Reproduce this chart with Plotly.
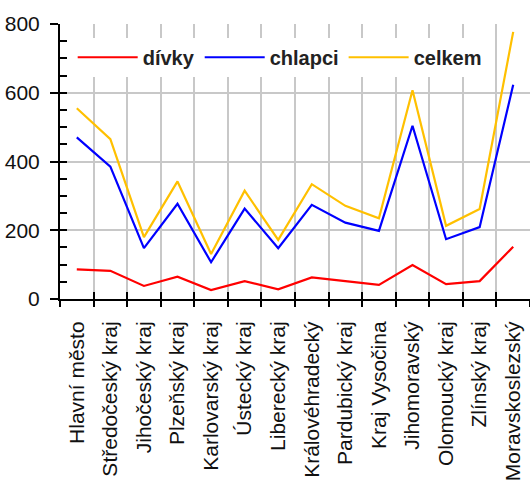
import plotly.graph_objects as go

# Regions (kraje) and counts per group
kraje = ["Hlavní město", "Středočeský kraj", "Jihočeský kraj", "Plzeňský kraj",
         "Karlovarský kraj", "Ústecký kraj", "Liberecký kraj", "Královéhradecký",
         "Pardubický kraj", "Kraj Vysočina", "Jihomoravský", "Olomoucký kraj",
         "Zlínský kraj", "Moravskoslezský"]
divky = [86, 82, 38, 65, 26, 52, 28, 63, 52, 41, 99, 43, 52, 152]
chlapci = [470, 385, 148, 277, 107, 263, 148, 274, 222, 198, 504, 174, 209, 623]
celkem = [555, 465, 180, 342, 131, 315, 172, 334, 271, 235, 607, 213, 262, 777]

y_ticks = [0, 200, 400, 600, 800]

FONT = "Liberation Sans, Arial, sans-serif"
GRID = "#c8c8c8"

n = len(kraje)
idx = list(range(n))
bounds = [i - 0.5 for i in range(n + 1)]

fig = go.Figure()
for name, vals, col in [("dívky", divky, "#ff0000"),
                        ("chlapci", chlapci, "#0000ff"),
                        ("celkem", celkem, "#ffc000")]:
    fig.add_trace(go.Scatter(x=idx, y=vals, name=name, mode="lines",
                             line=dict(color=col, width=2.2)))

# helper trace so the overlay axes (inner tick marks) are drawn
fig.add_trace(go.Scatter(x=[None], y=[None], xaxis="x2", yaxis="y2",
                         showlegend=False, hoverinfo="skip"))

fig.update_layout(
    width=530, height=489,
    margin=dict(l=60, r=0, t=24, b=190),
    paper_bgcolor="white", plot_bgcolor="white",
    font=dict(family=FONT, size=20, color="#111111"),
    xaxis=dict(
        range=[-0.5, n - 0.5],
        tickmode="array", tickvals=idx, ticktext=kraje, tickangle=-90,
        tickfont=dict(size=21),
        ticks="", showgrid=False, zeroline=False,
        showline=True, linecolor="black", linewidth=2,
        ticklabelstandoff=12,
        minor=dict(tickmode="array", tickvals=bounds, ticks="outside",
                   ticklen=6, tickwidth=2, tickcolor="black",
                   showgrid=True, gridcolor=GRID, gridwidth=2),
    ),
    xaxis2=dict(
        range=[-0.5, n - 0.5], overlaying="x", anchor="y", side="bottom",
        tickmode="array", tickvals=bounds, ticks="inside", ticklen=7,
        tickwidth=2, tickcolor="black", showticklabels=False,
        showgrid=False, zeroline=False, showline=False,
    ),
    yaxis=dict(
        range=[0, 800], tickmode="array", tickvals=y_ticks,
        ticks="outside", ticklen=8, tickwidth=2, tickcolor="black",
        showgrid=True, gridcolor=GRID, gridwidth=2, zeroline=False,
        showline=True, linecolor="black", linewidth=2,
        ticklabelstandoff=6, tickfont=dict(size=21),
    ),
    yaxis2=dict(
        range=[0, 800], overlaying="y", anchor="x", side="left",
        dtick=50, tick0=0, ticks="inside", ticklen=7, tickwidth=2,
        tickcolor="black", showticklabels=False,
        showgrid=False, zeroline=False, showline=False,
    ),
    legend=dict(
        orientation="h", x=0.027, y=0.95, xanchor="left", yanchor="top",
        bgcolor="white", font=dict(family=FONT, size=20, weight="bold",
                                   color="#222222"),
        itemwidth=60, tracegroupgap=0,
    ),
    showlegend=True,
)

fig.write_html("out.html")
